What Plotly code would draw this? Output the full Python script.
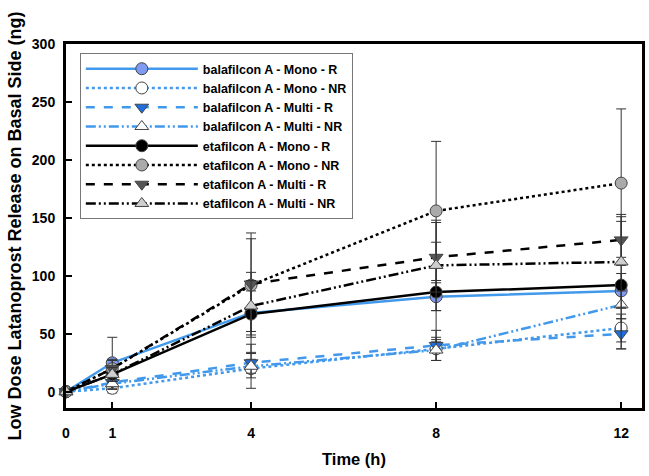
import plotly.graph_objects as go

time_h = [0, 1, 4, 8, 12]
series_names = [
    "balafilcon A - Mono - R", "balafilcon A - Mono - NR",
    "balafilcon A - Multi - R", "balafilcon A - Multi - NR",
    "etafilcon A - Mono - R", "etafilcon A - Mono - NR",
    "etafilcon A - Multi - R", "etafilcon A - Multi - NR",
]
bala_mono_r = [0, 25, 68, 82, 87]
bala_mono_nr = [0, 3, 20, 37, 55]
bala_multi_r = [0, 8, 25, 40, 50]
bala_multi_nr = [0, 7, 22, 36, 75]
eta_mono_r = [0, 15, 67, 86, 92]
eta_mono_nr = [0, 20, 92, 156, 180]
eta_multi_r = [0, 20, 93, 116, 131]
eta_multi_nr = [0, 15, 74, 109, 112]

err_bala_mono_r = [0, 22, 35, 12, 15]
err_bala_mono_nr = [0, 4, 8, 10, 12]
err_bala_multi_r = [0, 5, 9, 13, 13]
err_bala_multi_nr = [0, 5, 19, 9, 12]
err_eta_mono_r = [0, 6, 20, 43, 55]
err_eta_mono_nr = [0, 8, 40, 60, 64]
err_eta_multi_r = [0, 7, 44, 30, 22]
err_eta_multi_nr = [0, 6, 22, 39, 39]

values = [bala_mono_r, bala_mono_nr, bala_multi_r, bala_multi_nr,
          eta_mono_r, eta_mono_nr, eta_multi_r, eta_multi_nr]
errors = [err_bala_mono_r, err_bala_mono_nr, err_bala_multi_r, err_bala_multi_nr,
          err_eta_mono_r, err_eta_mono_nr, err_eta_multi_r, err_eta_multi_nr]

blue = "#4299ec"
ddd = "10px,3px,2px,3px,2px,3px"
styles = [
    dict(color=blue, dash="solid", sym="circle", mcol="#7f9af2"),
    dict(color=blue, dash="dot", sym="circle", mcol="#ffffff"),
    dict(color=blue, dash="dash", sym="triangle-down", mcol="#1d6fe0"),
    dict(color=blue, dash=ddd, sym="triangle-up", mcol="#ffffff"),
    dict(color="#000000", dash="solid", sym="circle", mcol="#000000"),
    dict(color="#000000", dash="dot", sym="circle", mcol="#aaaaaa"),
    dict(color="#000000", dash="dash", sym="triangle-down", mcol="#555555"),
    dict(color="#000000", dash=ddd, sym="triangle-up", mcol="#cfcfcf"),
]

fig = go.Figure()
for name, y, e, s in zip(series_names, values, errors, styles):
    fig.add_trace(go.Scatter(
        x=time_h, y=y, name=name, mode="lines+markers",
        line=dict(color=s["color"], dash=s["dash"], width=2.5),
        marker=dict(symbol=s["sym"], size=12, color=s["mcol"],
                    line=dict(color="#444444", width=1)),
        error_y=dict(type="data", array=e, visible=True, color="#333333",
                     thickness=1, width=5),
        cliponaxis=False,
    ))

font = "Liberation Sans, Arial, sans-serif"
fig.update_layout(
    width=649, height=476,
    margin=dict(l=66, r=4, t=44, b=68),
    plot_bgcolor="white", paper_bgcolor="white",
    font=dict(family=font, size=12, color="black"),
    showlegend=True,
    legend=dict(
        x=0.024, y=0.975, xanchor="left", yanchor="top",
        bordercolor="#777777", borderwidth=1, bgcolor="white",
        font=dict(family=font, size=12.5, color="black", weight="bold"),
        itemwidth=112, tracegroupgap=0,
    ),
    xaxis=dict(
        range=[0, 12.45], tickvals=time_h, ticktext=[str(t) for t in time_h],
        showgrid=False, zeroline=False, showline=True, linecolor="black",
        linewidth=3, mirror=True, ticks="inside", ticklen=6, tickwidth=1.5,
        tickcolor="black", ticklabelstandoff=10,
        tickfont=dict(family=font, size=14, weight="bold"),
        title=dict(text="Time (h)", font=dict(family=font, size=16.5, weight="bold"),
                   standoff=14),
    ),
    yaxis=dict(
        range=[-14, 300], tickvals=[0, 50, 100, 150, 200, 250, 300],
        showgrid=False, zeroline=False, showline=True, linecolor="black",
        linewidth=3, mirror=True, ticks="inside", ticklen=6, tickwidth=1.5,
        tickcolor="black", ticklabelstandoff=5,
        tickfont=dict(family=font, size=14, weight="bold"),
        title=dict(text="Low Dose Latanoprost Release on Basal Side (ng)",
                   font=dict(family=font, size=18, weight="bold"), standoff=6),
    ),
)
fig.write_html("out.html")
